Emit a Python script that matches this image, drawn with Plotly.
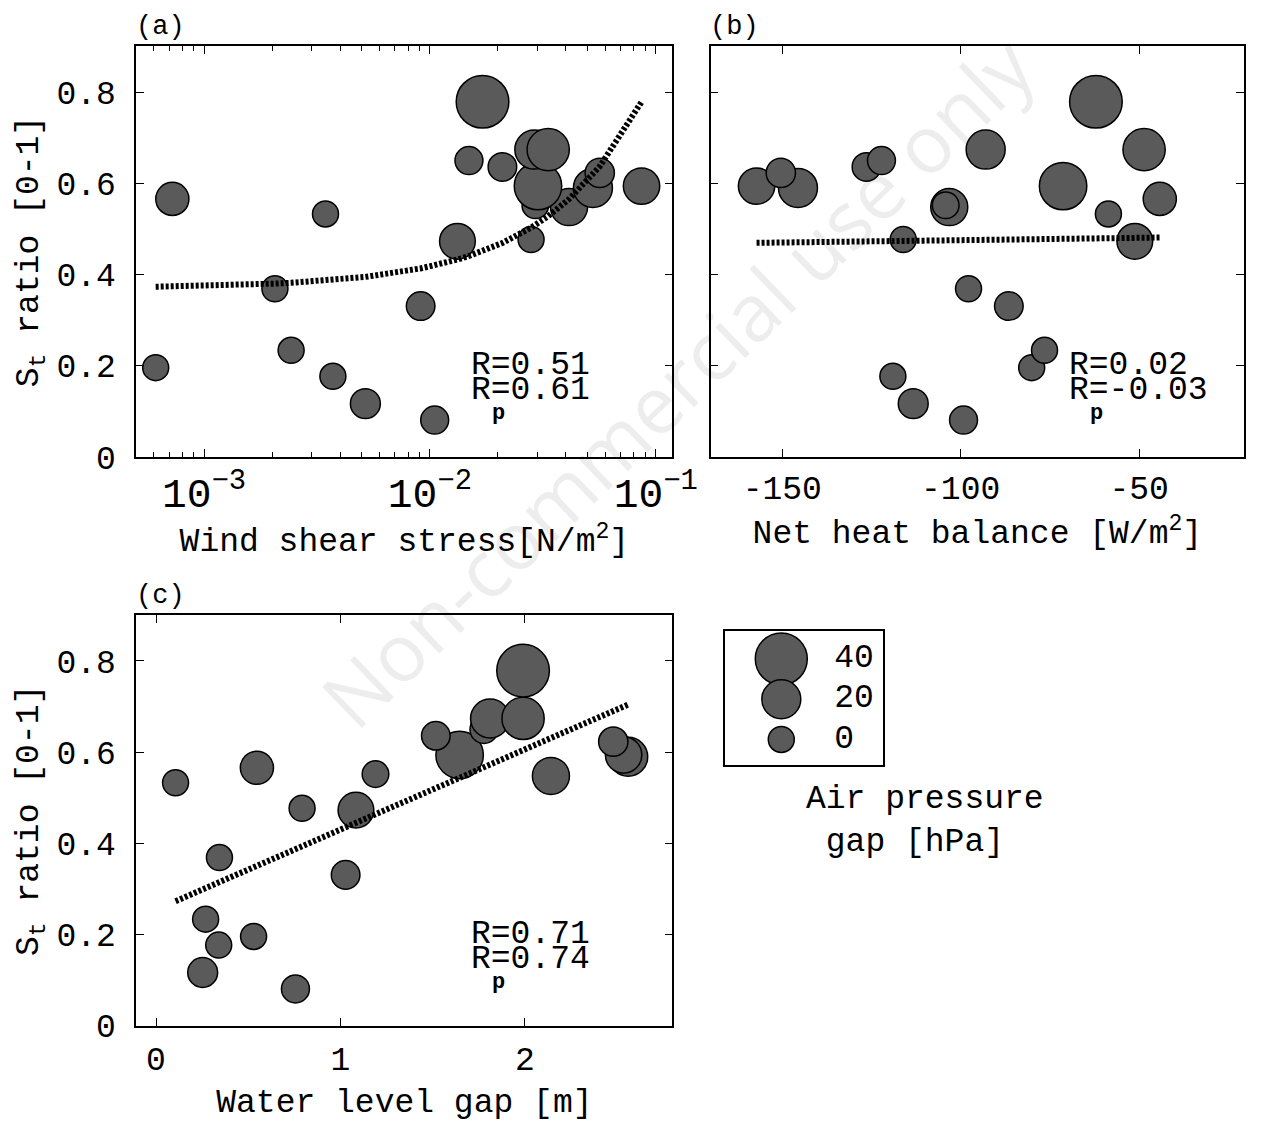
import numpy as np
import plotly.graph_objects as go

# ---------------- data ----------------
st_ratio = [0.081, 0.117, 0.177, 0.196, 0.234, 0.331, 0.369, 0.473, 0.477, 0.533, 0.548,
            0.552, 0.566, 0.594, 0.590, 0.594, 0.623, 0.636, 0.650, 0.674, 0.674, 0.779]
pressure_gap = [3, 6, 0, 0, 0, 4, 0, 15, 0, 0, 17, 1, 11, 33, 20, 16, 5, 4, 3, 20, 25, 41]
wind_stress = [0.0105, 0.00518, 0.00372, 0.000611, 0.00243, 0.00910, 0.00206, 0.01324,
               0.02805, 0.00345, 0.0413, 0.0293, 0.000724, 0.0301, 0.0527, 0.0865,
               0.0565, 0.02094, 0.01489, 0.0290, 0.0334, 0.0171]
net_heat = [-99.2, -113.3, -119.0, -80.1, -76.5, -86.5, -97.8, -51.2, -116.1, -58.6, -103.2,
            -104.2, -44.2, -71.3, -145.6, -157.2, -150.4, -126.4, -122.2, -93.0, -48.6, -62.1]
water_gap = [0.756, 0.253, 0.340, 0.529, 0.269, 1.028, 0.344, 1.084, 0.792, 0.106, 2.141,
             1.190, 0.547, 1.646, 2.560, 2.535, 2.479, 1.517, 1.778, 1.811, 1.990, 1.990]

r_texts = {"a": ("R=0.51", "R=0.61"), "b": ("R=0.02", "R=-0.03"), "c": ("R=0.71", "R=0.74")}
legend_sizes = [40, 20, 0]
legend_labels = ["40", "20", "0"]

# ---------------- style ----------------
W, H = 1269, 1142
FONT = "Liberation Mono, Courier New, monospace"
FILL = "#5a5a5a"
SIZE0, SIZE_K = 26, 0.65


def size_of(p):
    return [SIZE0 + SIZE_K * v for v in p]


def px(x):
    return x / W


def py(y):
    return 1 - y / H


fig = go.Figure()

marker = dict(color=FILL, line=dict(color="black", width=1.5), size=size_of(pressure_gap),
              sizemode="diameter", opacity=1)

panels = [("x", "y", wind_stress), ("x2", "y2", net_heat), ("x3", "y3", water_gap)]
for xa, ya, xs in panels:
    fig.add_trace(go.Scatter(x=xs, y=st_ratio, mode="markers", marker=marker,
                             xaxis=xa, yaxis=ya, showlegend=False, hoverinfo="skip"))

# regression lines computed from the data (evaluated at the data x positions)
for xa, ya, xs in panels:
    xs_arr = np.array(xs)
    coef = np.polyfit(xs_arr, np.array(st_ratio), 1)
    xsort = np.sort(xs_arr)
    fig.add_trace(go.Scatter(x=xsort, y=np.polyval(coef, xsort), mode="lines",
                             line=dict(color="black", width=6, dash="3px,2px"),
                             xaxis=xa, yaxis=ya, showlegend=False, hoverinfo="skip"))

# size legend
fig.add_trace(go.Scatter(x=[0.354] * 3, y=legend_sizes, mode="markers",
                         marker=dict(color=FILL, line=dict(color="black", width=1.5),
                                     size=size_of(legend_sizes), sizemode="diameter", opacity=1),
                         xaxis="x4", yaxis="y4", showlegend=False, hoverinfo="skip"))
fig.add_trace(go.Scatter(x=[0.69] * 3, y=legend_sizes, mode="text", text=legend_labels,
                         textposition="middle right",
                         textfont=dict(family=FONT, size=33, color="black"),
                         xaxis="x4", yaxis="y4", showlegend=False, hoverinfo="skip"))

tickfont = dict(family=FONT, size=33, color="black")
titlefont = dict(family=FONT, size=33, color="black")

common = dict(showline=True, linecolor="black", linewidth=1.5, mirror="allticks",
              ticks="inside", ticklen=8, tickwidth=1.3, tickcolor="black",
              showgrid=False, zeroline=False, tickfont=tickfont)

yax = dict(range=[0, 0.901], tickvals=[0, 0.2, 0.4, 0.6, 0.8],
           ticktext=["0", "0.2", "0.4", "0.6", "0.8"], **common)

fig.update_layout(
    width=W, height=H, margin=dict(l=0, r=0, t=0, b=0),
    paper_bgcolor="white", plot_bgcolor="white", showlegend=False,
    font=dict(family=FONT, color="black"),
    xaxis=dict(type="log", domain=[px(139), px(686)], range=[-3.30, -0.926], dtick=1,
               exponentformat="power", ticklabelstandoff=0,
               minor=dict(ticks="inside", ticklen=5, tickwidth=1.2, tickcolor="black", showgrid=False),
               title=dict(text="Wind shear stress[N/m<sup>2</sup>]", font=titlefont, standoff=2),
               anchor="y", **common),
    yaxis=dict(domain=[py(466), py(47)], anchor="x", ticklabelstandoff=12,
               title=dict(text="S<sub>t</sub> ratio [0-1]", font=titlefont, standoff=8), **yax),
    xaxis2=dict(domain=[px(725), 1.0], range=[-170.05, -20.6], tickvals=[-150, -100, -50],
                ticktext=["-150", "-100", "-50"], ticklabelstandoff=1,
                title=dict(text="Net heat balance [W/m<sup>2</sup>]", font=titlefont, standoff=12),
                anchor="y2", **common),
    yaxis2=dict(domain=[py(466), py(47)], anchor="x2", showticklabels=False, **yax),
    xaxis3=dict(domain=[px(139), px(686)], range=[-0.107, 2.8], tickvals=[0, 1, 2],
                ticklabelstandoff=3,
                title=dict(text="Water level gap [m]", font=titlefont, standoff=10),
                anchor="y3", **common),
    yaxis3=dict(domain=[py(1046), py(627)], anchor="x3", ticklabelstandoff=12,
                title=dict(text="S<sub>t</sub> ratio [0-1]", font=titlefont, standoff=8), **yax),
    xaxis4=dict(domain=[px(740), px(901)], range=[0, 1], anchor="y4", showline=True,
                linecolor="black", linewidth=1.5, mirror=True, ticks="", showticklabels=False,
                showgrid=False, zeroline=False, fixedrange=True),
    yaxis4=dict(domain=[py(780), py(643)], range=[-12.7, 54.1], anchor="x4", showline=True,
                linecolor="black", linewidth=1.5, mirror=True, ticks="", showticklabels=False,
                showgrid=False, zeroline=False, fixedrange=True),
)

ann = []
# watermark
ann.append(dict(text="Non-commercial use only", x=px(690), y=py(388), xref="paper", yref="paper",
                showarrow=False, textangle=-44, font=dict(family="Open Sans", size=80,
                                                          color="rgba(0,0,0,0.07)")))
# panel labels
for lab, x0, y0 in [("(a)", 137, 28), ("(b)", 722, 28), ("(c)", 137, 608)]:
    ann.append(dict(text=lab, x=px(x0), y=py(y0), xref="paper", yref="paper", showarrow=False,
                    xanchor="left", yanchor="middle", font=dict(family=FONT, size=27, color="black")))
# R values
for key, x0, y0 in [("a", 478, 373), ("b", 1088, 373), ("c", 478, 953)]:
    r1, r2 = r_texts[key]
    ann.append(dict(text=r1, x=px(x0), y=py(y0), xref="paper", yref="paper", showarrow=False,
                    xanchor="left", yanchor="middle", font=dict(family=FONT, size=33, color="black")))
    ann.append(dict(text=r2, x=px(x0), y=py(y0 + 25), xref="paper", yref="paper", showarrow=False,
                    xanchor="left", yanchor="middle", font=dict(family=FONT, size=33, color="black")))
    ann.append(dict(text="<b>p</b>", x=px(x0 + 22), y=py(y0 + 49), xref="paper", yref="paper",
                    showarrow=False, xanchor="left", yanchor="middle",
                    font=dict(family=FONT, size=22, color="black")))
# legend title
ann.append(dict(text="Air pressure<br>&nbsp;gap [hPa]", x=px(820), y=py(837), xref="paper",
                yref="paper", showarrow=False, xanchor="left", yanchor="middle", align="left",
                font=dict(family=FONT, size=33, color="black")))
fig.update_layout(annotations=ann)

fig.write_html("out.html")
